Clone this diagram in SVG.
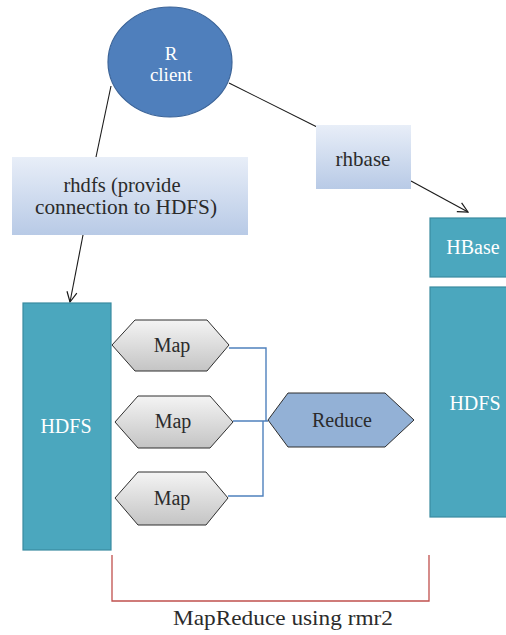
<svg xmlns="http://www.w3.org/2000/svg" width="506" height="635" viewBox="0 0 506 635">
  <defs>
    <linearGradient id="paleBlue" x1="0" y1="0" x2="0" y2="1">
      <stop offset="0" stop-color="#e8eef8"/>
      <stop offset="1" stop-color="#b8cae6"/>
    </linearGradient>
    <linearGradient id="grayHex" x1="0" y1="0" x2="0" y2="1">
      <stop offset="0" stop-color="#f4f4f4"/>
      <stop offset="1" stop-color="#c4c4c4"/>
    </linearGradient>
    <marker id="openArrow" viewBox="0 0 12 12" refX="11" refY="6" markerWidth="12" markerHeight="12" markerUnits="userSpaceOnUse" orient="auto">
      <path d="M1,1 L11,6 L1,11" fill="none" stroke="#1a1a1a" stroke-width="1.2"/>
    </marker>
  </defs>
  <style>
    .dark { fill: #2b2b2b; }
    .light { fill: #ffffff; }
    .store { fill: #4ba7be; stroke: #3a8ba0; stroke-width: 1.2; }
    .pkg { fill: url(#paleBlue); }
    .map { fill: url(#grayHex); stroke: #2f2f2f; stroke-width: 1; }
    .edge { fill: none; stroke: #1a1a1a; stroke-width: 1.1; }
    .flow { fill: none; stroke: #4f81bd; stroke-width: 1.4; }
  </style>
  <rect width="506" height="635" fill="#ffffff"/>

  <!-- connectors -->
  <g id="connectors">
    <line class="edge" x1="111" y1="86" x2="96" y2="157"/>
    <line class="edge" x1="83" y1="235" x2="70" y2="302" marker-end="url(#openArrow)"/>
    <line class="edge" x1="229" y1="83" x2="317" y2="127"/>
    <line class="edge" x1="411" y1="181" x2="468" y2="212" marker-end="url(#openArrow)"/>
    <path class="flow" d="M229,348 H266 V421"/>
    <path class="flow" d="M233,421 H268"/>
    <path class="flow" d="M228,496 H263 V421"/>
    <path d="M112,555 V601 H429 V555" fill="none" stroke="#c0504d" stroke-width="1.3"/>
  </g>

  <!-- all labels share one serif face -->
  <g font-family="'Liberation Serif', 'DejaVu Serif', serif" font-size="20" text-anchor="middle">
    <g id="r-client">
      <ellipse cx="170" cy="62" rx="62" ry="55" fill="#4f7fbc" stroke="#3c6498" stroke-width="1.2"/>
      <text class="light" x="171" y="60" font-size="19">R</text>
      <text class="light" x="171" y="81" font-size="19">client</text>
    </g>

    <g id="rhdfs">
      <rect class="pkg" x="12" y="157" width="236" height="78"/>
      <text class="dark" x="122" y="192" textLength="117" lengthAdjust="spacingAndGlyphs">rhdfs (provide</text>
      <text class="dark" x="126" y="214" textLength="182" lengthAdjust="spacingAndGlyphs">connection to HDFS)</text>
    </g>

    <g id="rhbase">
      <rect class="pkg" x="316" y="125" width="95" height="64"/>
      <text class="dark" x="363" y="166" font-size="21">rhbase</text>
    </g>

    <g id="hdfs-left">
      <rect class="store" x="23" y="303" width="88" height="247"/>
      <text class="light" x="66" y="433">HDFS</text>
    </g>

    <g id="hbase">
      <rect class="store" x="430" y="218" width="80" height="59"/>
      <text class="light" x="473" y="254">HBase</text>
    </g>

    <g id="hdfs-right">
      <rect class="store" x="430" y="287" width="80" height="230"/>
      <text class="light" x="475" y="410">HDFS</text>
    </g>

    <g id="map-1">
      <polygon class="map" points="112,345 135,320 207,320 229,345 207,371 135,371"/>
      <text class="dark" x="172" y="352">Map</text>
    </g>

    <g id="map-2">
      <polygon class="map" points="115,422 138,396 210,396 233,422 210,448 138,448"/>
      <text class="dark" x="173" y="428">Map</text>
    </g>

    <g id="map-3">
      <polygon class="map" points="115,498 138,472 206,472 228,498 206,525 138,525"/>
      <text class="dark" x="172" y="505">Map</text>
    </g>

    <g id="reduce">
      <polygon points="268,420 288,393 385,393 414,420 385,447 288,447" fill="#93b1d6" stroke="#2f2f2f" stroke-width="1"/>
      <text class="dark" x="342" y="427">Reduce</text>
    </g>

    <g id="caption">
      <text class="dark" x="283" y="625" font-size="22" textLength="220" lengthAdjust="spacingAndGlyphs">MapReduce using rmr2</text>
    </g>
  </g>
</svg>
